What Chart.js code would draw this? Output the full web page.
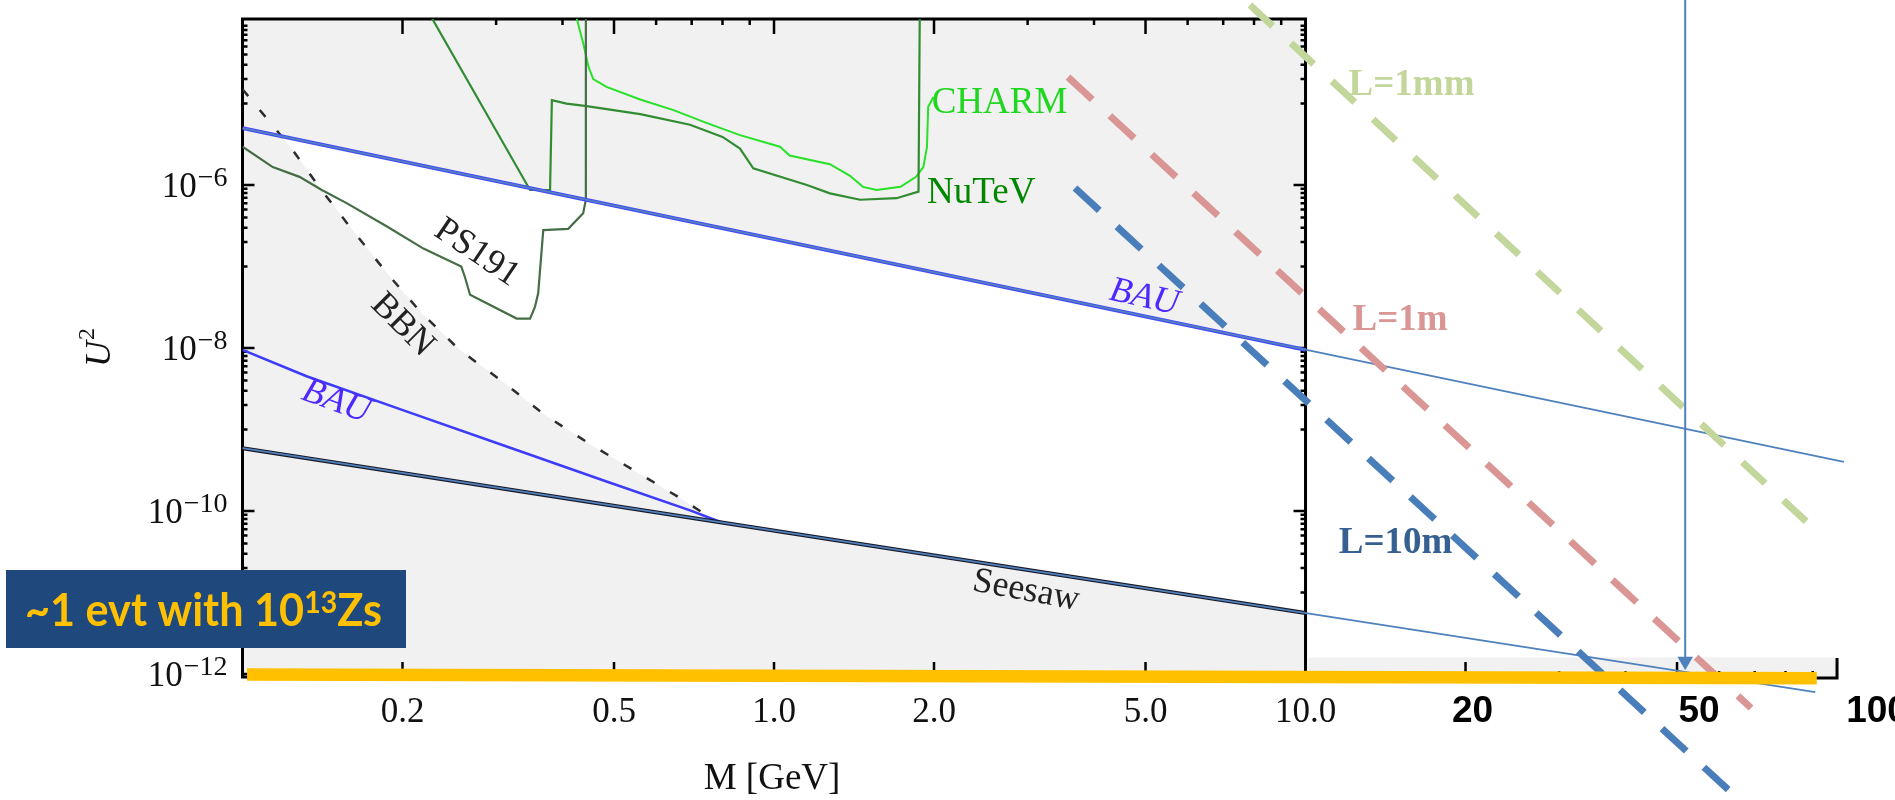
<!DOCTYPE html>
<html>
<head>
<meta charset="utf-8">
<script src="https://cdn.jsdelivr.net/npm/chart.js@4.4.1/dist/chart.umd.min.js"></script>
<style>
  html, body { margin: 0; padding: 0; background: #fff; }
  #wrap { width: 1895px; height: 800px; }
</style>
</head>
<body>
<div id="wrap"><canvas id="grafico" width="1895" height="800"></canvas></div>
<script>
// Rango de ejes (M en GeV, U^2)
const rangoM = [0.1, 105];
const rangoU = [9.2e-13, 1.09e-4];

// Ticks y etiquetas
const ticksM = [0.2, 0.5, 1, 2, 5, 10];
const etiquetasM = ['0.2', '0.5', '1.0', '2.0', '5.0', '10.0'];
const ticksExtM = [20, 50, 100];
const etiquetasExtM = ['20', '50', '100'];
const menoresExtM = [30, 40, 60, 70, 80, 90];
const ticksU = [1e-6, 1e-8, 1e-10, 1e-12];
const exponentesU = ['\u22126', '\u22128', '\u221210', '\u221212'];

// Curvas
const bauAltoM = [0.1, 10];
const bauAltoU = [5.0e-6, 9.5e-9];
const bauExtM = [0.1, 103];
const bauExtU = [5.0e-6, 4.0e-10];
const bauBajoM = [0.1, 0.132, 0.204, 0.314, 0.484, 0.695, 0.80];
const bauBajoU = [9.5e-9, 4.5e-9, 1.66e-9, 6.2e-10, 2.3e-10, 1.02e-10, 7.2e-11];
const seesawM = [0.1, 10];
const seesawU = [5.9e-10, 5.6e-12];
const seesawExtM = [0.1, 91];
const seesawExtU = [5.9e-10, 6.0e-13];
const bbnM = [0.1, 0.104, 0.123, 0.140, 0.161, 0.187, 0.217, 0.256, 0.305, 0.371, 0.448, 0.543, 0.665, 0.78];
const bbnU = [1.5e-5, 1.1e-5, 2.95e-6, 9.1e-7, 2.8e-7, 8.3e-8, 2.7e-8, 9.5e-9, 4.1e-9, 1.5e-9, 6.8e-10, 3.2e-10, 1.45e-10, 7.4e-11];
const ps191M = [0.1, 0.114, 0.128, 0.141, 0.157, 0.187, 0.219, 0.258, 0.262, 0.268, 0.328, 0.3475, 0.355, 0.36, 0.368, 0.41, 0.4375, 0.4426, 0.4426];
const ps191U = [2.95e-6, 1.66e-6, 1.26e-6, 8.7e-7, 6.0e-7, 3.1e-7, 1.66e-7, 1.0e-7, 7.5e-8, 4.5e-8, 2.3e-8, 2.3e-8, 3.2e-8, 4.7e-8, 2.8e-7, 2.9e-7, 4.5e-7, 6.6e-7, 1.1e-4];
const nutevM = [0.2275, 0.3475, 0.379, 0.382, 0.407, 0.444, 0.56, 0.695, 0.80, 0.863, 0.914, 1.153, 1.274, 1.452, 1.70, 1.87, 1.88];
const nutevU = [1.1e-4, 8.7e-7, 8.7e-7, 1.1e-5, 1.0e-5, 9.3e-6, 7.4e-6, 5.5e-6, 3.9e-6, 2.8e-6, 1.6e-6, 1.0e-6, 7.9e-7, 6.6e-7, 6.9e-7, 8.3e-7, 1.1e-4];
const charmM = [0.4256, 0.4375, 0.448, 0.457, 0.484, 0.56, 0.647, 0.746, 0.863, 1.026, 1.07, 1.274, 1.39, 1.47, 1.56, 1.73, 1.85, 1.91, 1.94, 1.95, 1.995];
const charmU = [1.1e-4, 5.5e-5, 2.8e-5, 2.0e-5, 1.6e-5, 1.12e-5, 8.3e-6, 5.8e-6, 4.1e-6, 2.95e-6, 2.3e-6, 1.8e-6, 1.3e-6, 9.5e-7, 8.7e-7, 9.5e-7, 1.26e-6, 1.66e-6, 2.95e-6, 9.1e-6, 1.2e-5];

// Longitudes de decaimiento (lineas discontinuas)
const l1mmM = [7.86, 87.8];
const l1mmU = [1.62e-4, 7.3e-11];
const l1mM = [3.574, 68.9];
const l1mU = [2.11e-5, 3.83e-13];
const l10mM = [3.684, 67.1];
const l10mU = [9.2e-7, 2.47e-14];

// Flecha vertical y barra amarilla
const flechaM = [51.8, 51.8];
const flechaU = [1.9e-4, 1.4e-12];
const puntaU = 1.44e-12;
const barraM = [0.102, 91.6];
const barraU = [9.9e-13, 8.9e-13];

// Franja gris de la extension del eje
const franjaM = [10, 100];
const franjaU = 1.6e-12;

// Region permitida (blanca): interseccion BAU/BBN, BAU, borde derecho, seesaw, BBN de vuelta
const cruceBauBbn = { x: 0.118, y: 4.0e-6 };

// Textos sobre la figura
const notas = [
  { texto: 'PS191', m: 0.276, u: 1.47e-7, ang: 34, tipo: 'negro' },
  { texto: 'BBN', m: 0.2, u: 1.91e-8, ang: 45, tipo: 'negro' },
  { texto: 'BAU', m: 0.15, u: 2.19e-9, ang: 20, tipo: 'bau' },
  { texto: 'BAU', m: 4.97, u: 4.17e-8, ang: 12.5, tipo: 'bau' },
  { texto: 'Seesaw', m: 2.98, u: 1.05e-11, ang: 10.5, tipo: 'negro' }
];
const notasRectas = [
  { texto: 'CHARM', m: 1.98, u: 7.6e-6, color: 'rgb(30,215,30)', negrita: false },
  { texto: 'NuTeV', m: 1.94, u: 6.0e-7, color: 'rgb(0,135,0)', negrita: false },
  { texto: 'L=1mm', m: 12.05, u: 1.27e-5, color: 'rgb(195,214,155)', negrita: true },
  { texto: 'L=1m', m: 12.26, u: 1.66e-8, color: 'rgb(217,150,148)', negrita: true },
  { texto: 'L=10m', m: 11.55, u: 3.05e-11, color: 'rgb(55,96,146)', negrita: true }
];

const pares = (ms, us) => ms.map((m, i) => ({ x: m, y: us[i] }));

function linea(ms, us, color, ancho, orden, extra) {
    return Object.assign({
        data: pares(ms, us),
        showLine: true,
        borderColor: color,
        backgroundColor: color,
        borderWidth: ancho,
        pointRadius: 0,
        order: orden
    }, extra || {});
}

const azulAcero = 'rgb(79,129,189)';

const datasets = [
    { data: [{ x: flechaM[1], y: puntaU }], pointStyle: 'triangle', rotation: 180, pointRadius: 9,
      backgroundColor: azulAcero, borderWidth: 0, showLine: false, order: 0, clip: false },
    linea(flechaM, flechaU, azulAcero, 2, 1, { clip: false }),
    linea(barraM, barraU, '#FFC000', 12.5, 2, { clip: false, borderCapStyle: 'butt' }),
    linea(l10mM, l10mU, 'rgb(74,126,187)', 7, 3, { clip: false, borderDash: [33, 24] }),
    linea(l1mM, l1mU, 'rgb(217,150,148)', 7, 4, { clip: false, borderDash: [33, 24] }),
    linea(l1mmM, l1mmU, 'rgb(195,214,155)', 7, 5, { clip: false, borderDash: [31, 25] }),
    linea(bauExtM, bauExtU, azulAcero, 1.8, 6, { clip: false }),
    linea(seesawExtM, seesawExtU, azulAcero, 1.8, 7, { clip: false }),
    linea(bauAltoM, bauAltoU, 'rgb(70,70,255)', 4, 8),
    linea(seesawM, seesawU, 'rgb(25,25,40)', 4, 9),
    linea(bauBajoM, bauBajoU, 'rgb(60,60,250)', 2.6, 10),
    linea(bbnM, bbnU, 'rgb(45,45,45)', 2.5, 11, { borderDash: [9, 18] }),
    linea(ps191M, ps191U, 'rgb(70,110,70)', 2.2, 12),
    linea(nutevM, nutevU, 'rgb(50,140,50)', 2.2, 13),
    linea(charmM, charmU, 'rgb(40,225,40)', 2, 14)
];

// Fondo gris, region blanca, marco y ticks
const fondo = {
    id: 'fondo',
    beforeDatasetsDraw(chart) {
        const { ctx, scales: { x, y } } = chart;
        const px = v => x.getPixelForValue(v);
        const py = v => y.getPixelForValue(v);
        const x0 = px(0.1), x1 = px(10);
        const yT = py(rangoU[1]), yB = py(rangoU[0]);
        ctx.save();
        ctx.fillStyle = '#f1f1f1';
        ctx.fillRect(x0, yT, x1 - x0, yB - yT);
        ctx.fillRect(px(franjaM[0]) + 3, py(franjaU), px(franjaM[1]) - px(franjaM[0]) - 3, yB - py(franjaU));

        // region permitida
        const blanco = [cruceBauBbn, { x: 10, y: bauAltoU[1] }, { x: 10, y: seesawU[1] },
            { x: bbnM[bbnM.length - 1], y: bbnU[bbnU.length - 1] }];
        for (let i = bbnM.length - 2; i >= 0; i--) {
            if (bbnM[i] > cruceBauBbn.x) blanco.push({ x: bbnM[i], y: bbnU[i] });
        }
        ctx.beginPath();
        blanco.forEach((p, i) => i ? ctx.lineTo(px(p.x), py(p.y)) : ctx.moveTo(px(p.x), py(p.y)));
        ctx.closePath();
        ctx.fillStyle = '#ffffff';
        ctx.fill();

        // marco
        ctx.strokeStyle = '#000';
        ctx.lineWidth = 3;
        ctx.beginPath();
        ctx.moveTo(x0, yB + 1.5); ctx.lineTo(x0, yT);
        ctx.lineTo(x1, yT); ctx.lineTo(x1, yB);
        ctx.lineTo(x0, yB);
        ctx.stroke();
        // extension del eje inferior
        const x100 = px(100);
        ctx.beginPath();
        ctx.moveTo(x1, yB + 1); ctx.lineTo(x100, yB + 1); ctx.lineTo(x100, yB - 19);
        ctx.stroke();

        // ticks de M
        ctx.lineWidth = 2.5;
        ctx.beginPath();
        for (const e of [-1, 0]) {
            for (let k = 1; k <= 9; k++) {
                const v = k * Math.pow(10, e);
                const mayor = ticksM.some(t => Math.abs(t - v) < 1e-9);
                const largo = mayor ? 15 : 6;
                ctx.moveTo(px(v), yT); ctx.lineTo(px(v), yT + largo);
                ctx.moveTo(px(v), yB); ctx.lineTo(px(v), yB - largo);
            }
        }
        ticksExtM.slice(0, 2).forEach(v => { ctx.moveTo(px(v), yB); ctx.lineTo(px(v), yB - 15); });
        menoresExtM.forEach(v => { ctx.moveTo(px(v), yB); ctx.lineTo(px(v), yB - 6); });

        // ticks de U^2
        ticksU.forEach(v => {
            ctx.moveTo(x0, py(v)); ctx.lineTo(x0 + 12, py(v));
            ctx.moveTo(x1, py(v)); ctx.lineTo(x1 - 12, py(v));
        });
        for (const e of [-5, -7, -9, -11]) {
            for (let k = 1; k <= 9; k++) {
                const v = k * Math.pow(10, e);
                if (v > rangoU[1]) continue;
                ctx.moveTo(x0, py(v)); ctx.lineTo(x0 + 5, py(v));
                ctx.moveTo(x1, py(v)); ctx.lineTo(x1 - 5, py(v));
            }
        }
        ctx.stroke();
        ctx.restore();
    }
};

// Etiquetas de ejes, textos y recuadro
const rotulos = {
    id: 'rotulos',
    afterDraw(chart) {
        const { ctx, scales: { x, y } } = chart;
        const px = v => x.getPixelForValue(v);
        const py = v => y.getPixelForValue(v);
        const x0 = px(0.1);
        const yB = py(rangoU[0]);
        ctx.save();

        // etiquetas del eje M
        ctx.fillStyle = '#111';
        ctx.textAlign = 'center';
        ctx.textBaseline = 'alphabetic';
        ctx.font = '35px "Liberation Serif"';
        ticksM.forEach((v, i) => ctx.fillText(etiquetasM[i], px(v), yB + 45));
        ctx.font = 'bold 37px "Liberation Sans"';
        ctx.fillStyle = '#000';
        const empuje = [7, 22, 40];
        ticksExtM.forEach((v, i) => ctx.fillText(etiquetasExtM[i], px(v) + empuje[i], yB + 45));
        ctx.font = '37px "Liberation Serif"';
        ctx.fillStyle = '#111';
        ctx.fillText('M [GeV]', px(1) - 2, yB + 112);

        // etiquetas del eje U^2
        ctx.textAlign = 'right';
        ticksU.forEach((v, i) => {
            const yy = py(v);
            ctx.font = '28px "Liberation Serif"';
            const ancho = ctx.measureText(exponentesU[i]).width;
            ctx.fillText(exponentesU[i], x0 - 15, yy + 1);
            ctx.font = '35px "Liberation Serif"';
            ctx.fillText('10', x0 - 15 - ancho - 1, yy + 12);
        });

        // titulo del eje vertical
        ctx.save();
        ctx.translate(110, 367);
        ctx.rotate(-Math.PI / 2);
        ctx.textAlign = 'left';
        ctx.font = 'italic 36px "Liberation Serif"';
        ctx.fillText('U', 0, 0);
        const wU = ctx.measureText('U').width;
        ctx.font = '24px "Liberation Serif"';
        ctx.fillText('2', wU + 1, -16);
        ctx.restore();

        // textos rotados
        notas.forEach(n => {
            ctx.save();
            ctx.translate(px(n.m), py(n.u));
            ctx.rotate(n.ang * Math.PI / 180);
            ctx.textAlign = 'center';
            ctx.textBaseline = 'middle';
            if (n.tipo === 'bau') {
                ctx.font = 'italic 36px "Liberation Serif"';
                ctx.fillStyle = 'rgb(80,40,255)';
            } else {
                ctx.font = '36px "Liberation Serif"';
                ctx.fillStyle = '#222';
            }
            ctx.fillText(n.texto, 0, 0);
            ctx.restore();
        });

        // textos horizontales
        ctx.textAlign = 'left';
        ctx.textBaseline = 'alphabetic';
        notasRectas.forEach(n => {
            ctx.font = (n.negrita ? 'bold 37px' : '37px') + ' "Liberation Serif"';
            ctx.fillStyle = n.color;
            ctx.fillText(n.texto, px(n.m), py(n.u));
        });

        // recuadro
        ctx.fillStyle = 'rgb(31,73,125)';
        ctx.fillRect(6, 570, 400, 78);
        const tam = 45;
        const partes = [['~1 evt with 10', tam, 0], ['13', tam * 0.66, -13], ['Zs', tam, 0]];
        let total = 0;
        partes.forEach(p => { ctx.font = 'bold ' + p[1] + 'px Lato'; total += ctx.measureText(p[0]).width; });
        const escala = 357 / total;
        ctx.save();
        ctx.translate(25, 626);
        ctx.scale(escala, 1);
        ctx.fillStyle = '#FFC000';
        let cx = 0;
        partes.forEach(p => {
            ctx.font = 'bold ' + p[1] + 'px Lato';
            ctx.fillText(p[0], cx, p[2]);
            cx += ctx.measureText(p[0]).width;
        });
        ctx.restore();

        ctx.restore();
    }
};

new Chart(document.getElementById('grafico'), {
    type: 'scatter',
    data: { datasets: datasets },
    options: {
        responsive: false,
        animation: false,
        devicePixelRatio: 1,
        events: [],
        layout: { padding: { left: 242.5, right: 46.7, top: 19, bottom: 123 } },
        scales: {
            x: { type: 'logarithmic', min: rangoM[0], max: rangoM[1], display: false },
            y: { type: 'logarithmic', min: rangoU[0], max: rangoU[1], display: false }
        },
        plugins: {
            legend: { display: false },
            tooltip: { enabled: false }
        }
    },
    plugins: [fondo, rotulos]
});
</script>
</body>
</html>
